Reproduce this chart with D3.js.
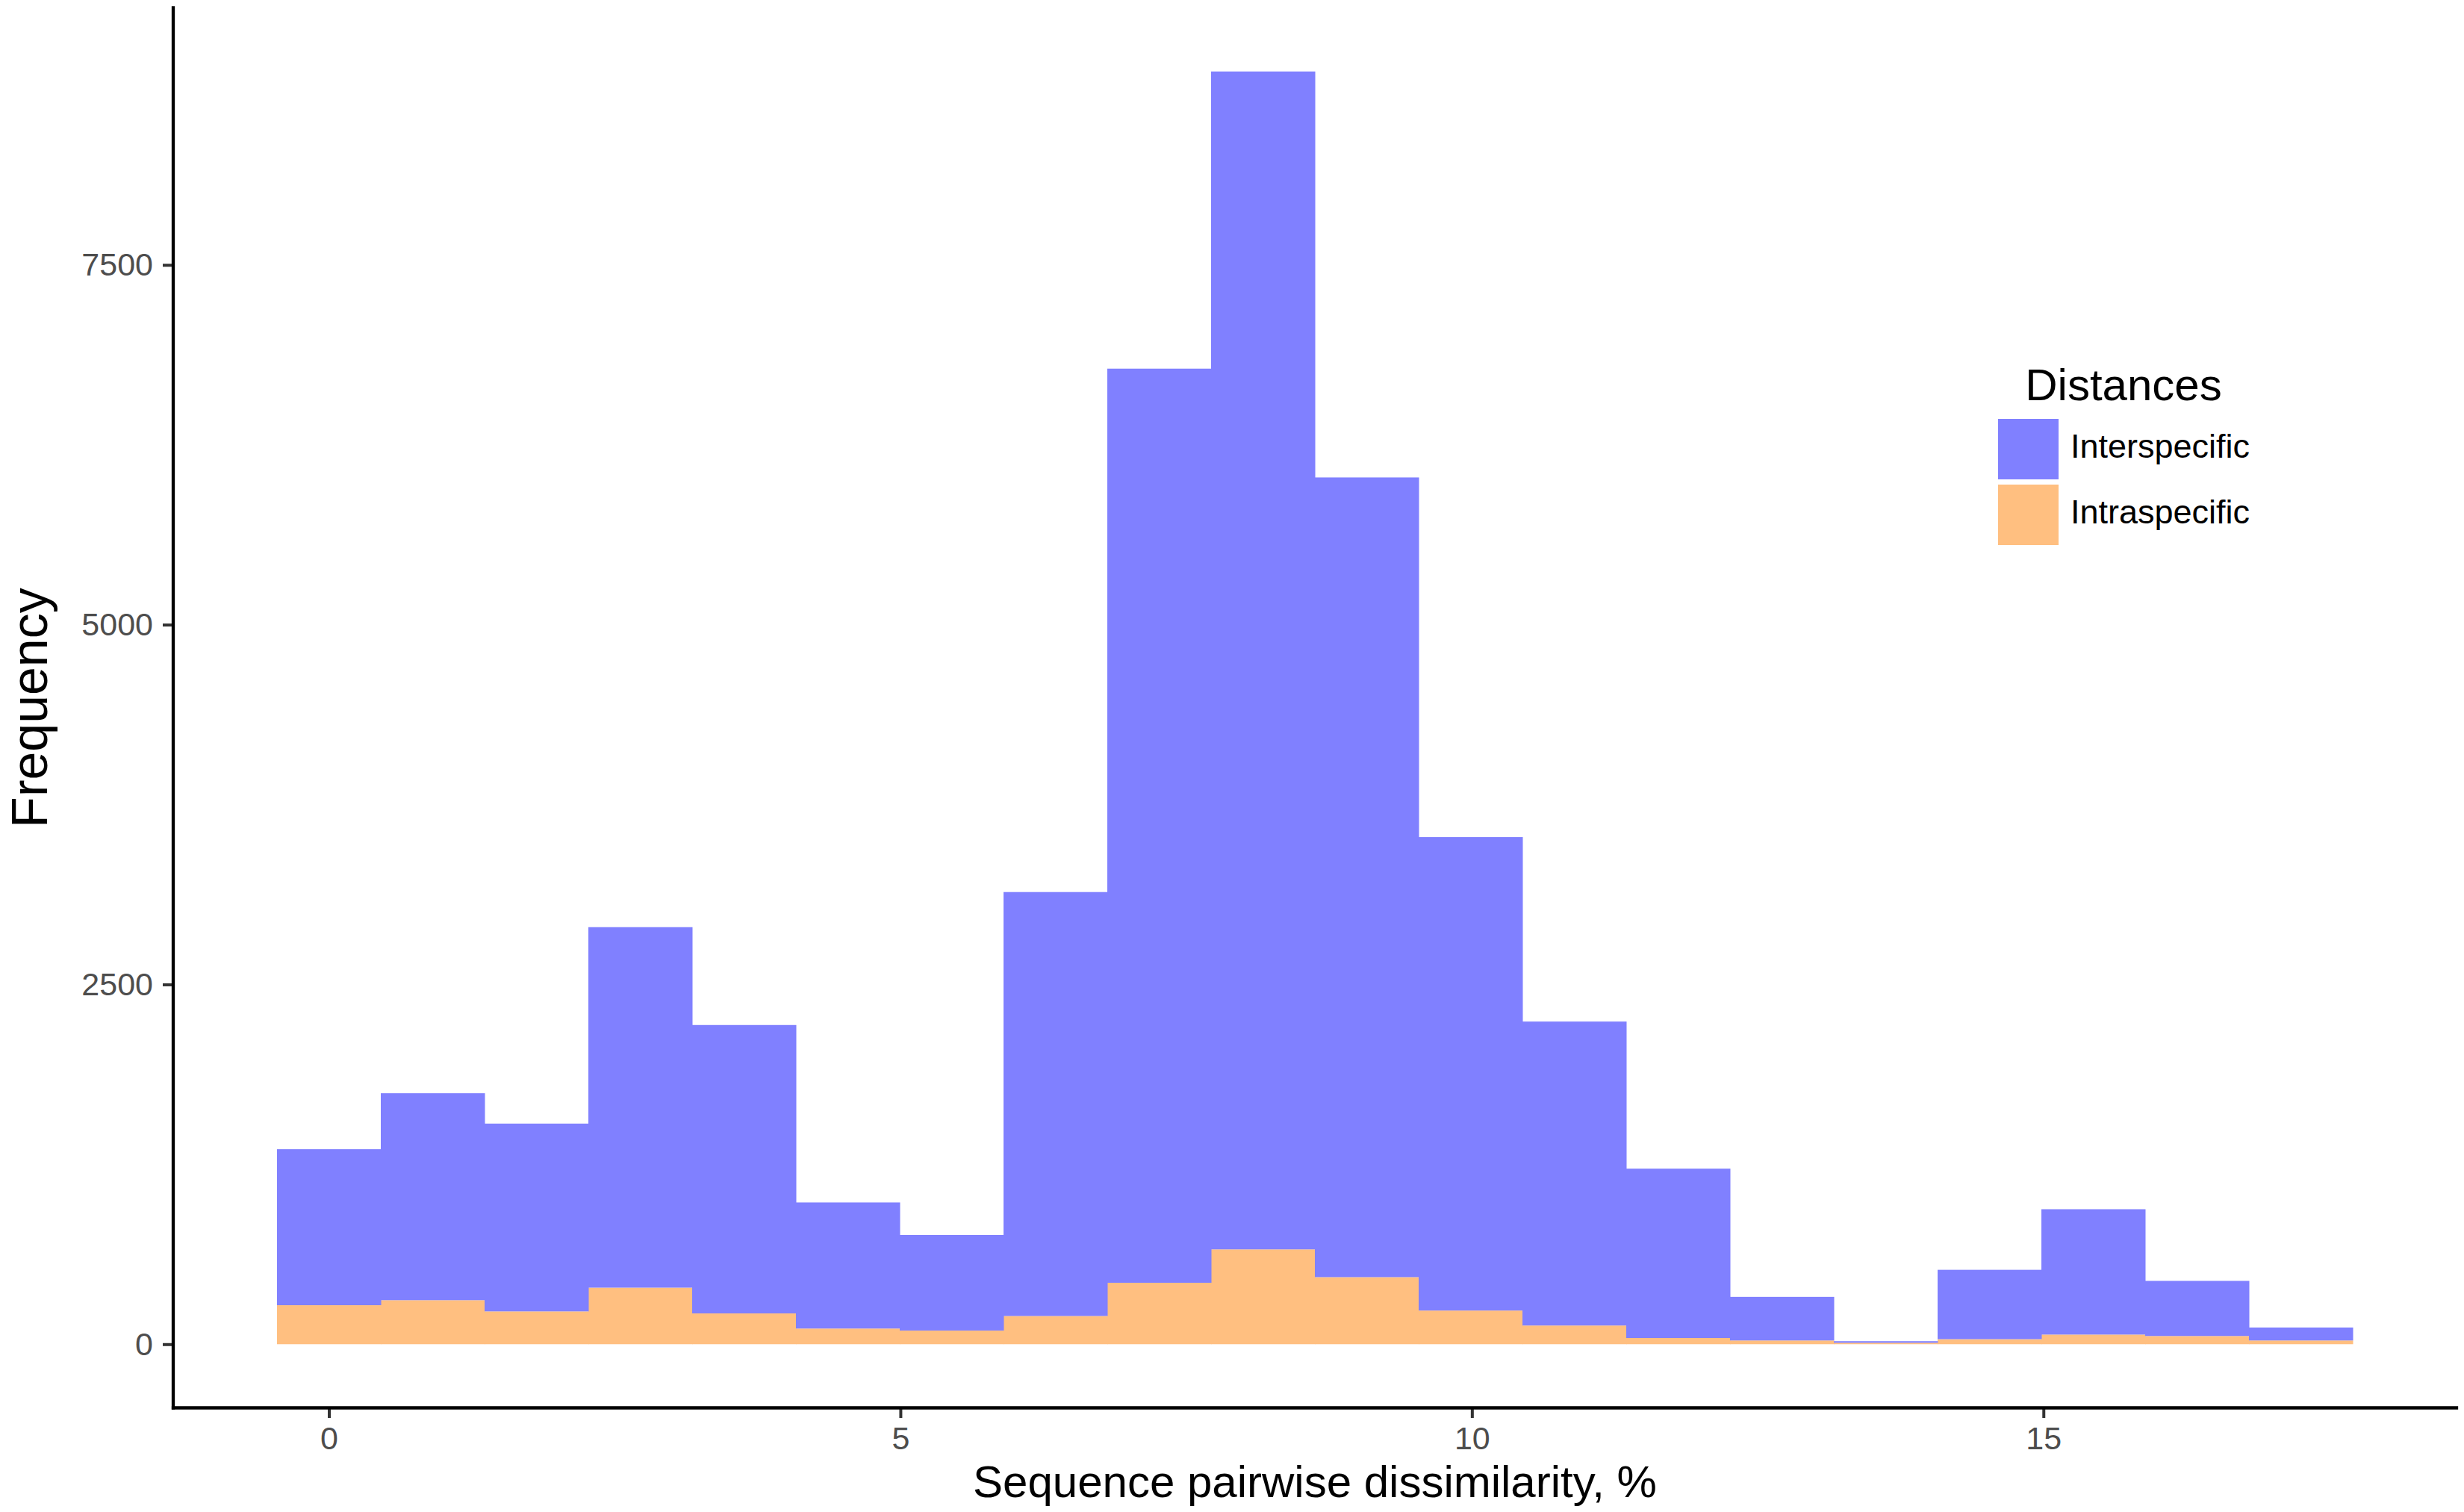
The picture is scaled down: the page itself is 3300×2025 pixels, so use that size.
<!DOCTYPE html>
<meta charset="utf-8">
<head>
<title>Distances histogram</title>
<style>
body { margin: 0; background: #fff; }
text { font-family: "Liberation Sans", Arial, Helvetica, sans-serif; }
.tick text { fill: #4d4d4d; font-size: 43px; }
.tick line { stroke: #333; stroke-width: 4; }
.axis-line { stroke: #000; stroke-width: 4.3; stroke-linecap: square; }
</style>
</head>
<body>
<script src="https://cdn.jsdelivr.net/npm/d3@7"></script>
<script>

// Bin edges (sequence pairwise dissimilarity, %), 20 bins
var binEdges = [-0.454, 0.454, 1.362, 2.270, 3.178, 4.086, 4.994, 5.902, 6.810, 7.718,
                8.626, 9.534, 10.442, 11.350, 12.258, 13.166, 14.074, 14.982, 15.890, 16.798, 17.706];

// Counts per bin
var interspecific = [1084, 1438, 1305, 2505, 2004, 876, 664, 2946, 6352, 8185,
                     5557, 3290, 2112, 1177, 303, 11, 482, 871, 383, 90];
var intraspecific = [271, 306, 228, 393, 214, 109, 95, 196, 427, 659,
                     466, 234, 130, 43, 26, 10, 35, 67, 57, 26];

var groups = ["Interspecific", "Intraspecific"];
var colors = ["#8080ff", "#ffbf80"];

var xTicks = [0, 5, 10, 15];
var yTicks = [0, 2500, 5000, 7500];

var W = 3300, H = 2025;
var panel = {left: 232, right: 3290, top: 10.5, bottom: 1885.5};

var svg = d3.select("body").append("svg")
    .attr("width", W)
    .attr("height", H);

// rows for stacking: intra at the bottom, inter on top
var rows = interspecific.map(function(v, i) {
    return {x0: binEdges[i], x1: binEdges[i + 1], Interspecific: v, Intraspecific: intraspecific[i]};
});

var stack = d3.stack().keys(["Intraspecific", "Interspecific"]);
var series = stack(rows);

var xMin = binEdges[0], xMax = binEdges[binEdges.length - 1];
var xPad = (xMax - xMin) * 0.05;
var x = d3.scaleLinear()
    .domain([xMin - xPad, xMax + xPad])
    .range([panel.left, panel.right]);

var yMax = d3.max(rows, function(d) { return d.Interspecific + d.Intraspecific; });
var y = d3.scaleLinear()
    .domain([-0.05 * yMax, 1.05 * yMax])
    .range([panel.bottom, panel.top]);

// Bars
svg.append("g").selectAll("g")
    .data(series)
    .enter().append("g")
    .attr("fill", function(d) { return colors[groups.indexOf(d.key)]; })
    .selectAll("rect")
    .data(function(d) { return d; })
    .enter().append("rect")
    .attr("x", function(d) { return x(d.data.x0); })
    .attr("width", function(d) { return x(d.data.x1) - x(d.data.x0) + 0.5; })
    .attr("y", function(d) { return y(d[1]); })
    .attr("height", function(d) { return Math.max(0, y(d[0]) - y(d[1])); });

// Axes
var yAxis = svg.append("g")
    .attr("transform", "translate(" + panel.left + ",0)")
    .call(d3.axisLeft(y).tickValues(yTicks).tickSize(14).tickPadding(13).tickFormat(d3.format("d")));
yAxis.select(".domain").remove();

var xAxis = svg.append("g")
    .attr("transform", "translate(0," + panel.bottom + ")")
    .call(d3.axisBottom(x).tickValues(xTicks).tickSize(13.5).tickPadding(11).tickFormat(d3.format("d")));
xAxis.select(".domain").remove();

svg.append("line").attr("class", "axis-line")
    .attr("x1", panel.left).attr("x2", panel.left)
    .attr("y1", panel.top).attr("y2", panel.bottom);
svg.append("line").attr("class", "axis-line")
    .attr("x1", panel.left).attr("x2", panel.right)
    .attr("y1", panel.bottom).attr("y2", panel.bottom);

// Axis titles
svg.append("text")
    .attr("x", (panel.left + panel.right) / 2)
    .attr("y", 2005)
    .attr("text-anchor", "middle")
    .style("font-size", "60px")
    .text("Sequence pairwise dissimilarity, %");

svg.append("text")
    .attr("transform", "translate(63," + ((panel.top + panel.bottom) / 2) + ") rotate(-90)")
    .attr("text-anchor", "middle")
    .style("font-size", "68px")
    .text("Frequency");

// Legend
var legend = svg.append("g").attr("transform", "translate(2676,557)");

legend.append("text")
    .attr("x", 168)
    .attr("y", -21)
    .attr("text-anchor", "middle")
    .style("font-size", "60px")
    .text("Distances");

var keys = legend.selectAll(".key")
    .data(groups)
    .enter().append("g")
    .attr("class", "key")
    .attr("transform", function(d, i) { return "translate(0," + (i * 88) + ")"; });

keys.append("rect")
    .attr("x", 0)
    .attr("y", 4)
    .attr("width", 81)
    .attr("height", 81)
    .attr("fill", function(d, i) { return colors[i]; });

keys.append("text")
    .attr("x", 97)
    .attr("y", 56)
    .style("font-size", "45px")
    .text(function(d) { return d; });

</script>
</body>
